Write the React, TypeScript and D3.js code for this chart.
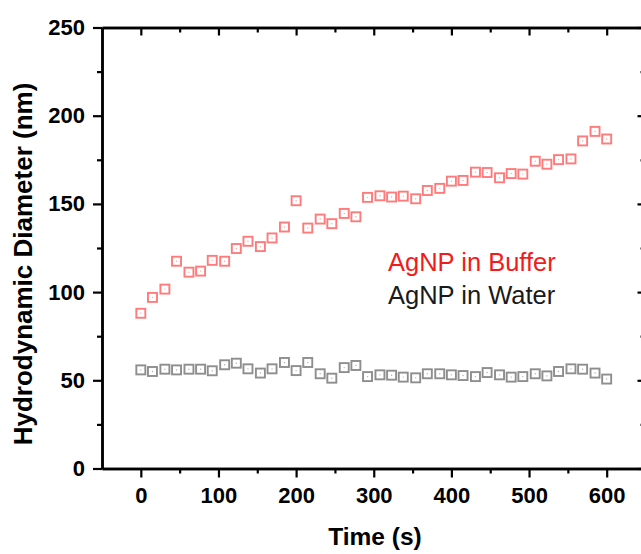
import React, { useEffect, useRef } from 'react';
import * as d3 from 'd3';

// time points (s)
const timeS = [0, 15, 31, 46, 62, 77, 92, 108, 123, 138, 154, 169, 185, 200, 215, 231, 246, 262, 277, 292,
  308, 323, 338, 354, 369, 385, 400, 415, 431, 446, 462, 477, 492, 508, 523, 538, 554, 569, 585, 600];

// hydrodynamic diameter (nm)
const bufferNm = [88, 97, 101.7, 117.5, 111.3, 111.9, 118, 117.5, 124.7, 128.8,
  125.8, 130.7, 136.9, 151.8, 136.3, 141.4, 138.8, 144.6, 142.7, 153.7,
  154.6, 153.9, 154.4, 152.9, 157.6, 158.8, 162.9, 163.3, 168, 167.8,
  164.8, 167.2, 166.9, 174.2, 172.5, 175.1, 175.5, 185.7, 191.1, 186.8];
const waterNm = [55.9, 55, 56.3, 55.9, 56.3, 56.3, 55.4, 58.8, 59.7, 56.5,
  54.1, 56.5, 60.1, 55.5, 60.1, 53.7, 51.2, 57.2, 58.4, 52.1,
  53.1, 52.9, 51.8, 51.4, 53.7, 53.7, 53.1, 52.7, 52.1, 54.4,
  53.1, 51.8, 52.1, 53.7, 52.5, 55, 56.5, 56.3, 54.1, 50.7];

const xMajor = [0, 100, 200, 300, 400, 500, 600];
const xMinor = [50, 150, 250, 350, 450, 550];
const yMajor = [0, 50, 100, 150, 200, 250];
const yMinor = [25, 75, 125, 175, 225];

const seriesNames = ['AgNP in Buffer', 'AgNP in Water'];

const W = 641, H = 554;
const FONT = '"Liberation Sans", Arial, sans-serif';

export default function App() {
  const ref = useRef<SVGSVGElement>(null);

  useEffect(() => {
    document.body.style.margin = '0';
    const svg = d3.select(ref.current);
    svg.selectAll('*').remove();

    const x = d3.scaleLinear().domain([-50, 650]).range([102, 645.5]);
    const y = d3.scaleLinear().domain([0, 250]).range([468.5, 27.5]);

    const styleAxis = (g: any) => {
      g.selectAll('path').attr('stroke', '#000').attr('stroke-width', 2.5);
      g.selectAll('line').attr('stroke', '#000').attr('stroke-width', 2.2);
      g.selectAll('text')
        .attr('fill', '#000')
        .style('font-family', FONT)
        .style('font-weight', 'bold')
        .style('font-size', '22px');
    };

    // bottom
    svg.append('g').attr('transform', `translate(0,${y(0)})`)
      .call(d3.axisBottom(x).tickValues(xMinor).tickSize(5).tickSizeOuter(0).tickFormat(() => ''))
      .call(styleAxis);
    svg.append('g').attr('transform', `translate(0,${y(0)})`)
      .call(d3.axisBottom(x).tickValues(xMajor).tickSize(9).tickSizeOuter(0).tickPadding(10).tickFormat(d3.format('d')))
      .call(styleAxis);
    // top
    svg.append('g').attr('transform', `translate(0,${y(250)})`)
      .call(d3.axisBottom(x).tickValues(xMinor).tickSize(5).tickSizeOuter(0).tickFormat(() => ''))
      .call(styleAxis);
    svg.append('g').attr('transform', `translate(0,${y(250)})`)
      .call(d3.axisBottom(x).tickValues(xMajor).tickSize(8).tickSizeOuter(0).tickFormat(() => ''))
      .call(styleAxis);
    // left
    svg.append('g').attr('transform', `translate(${x(-50)},0)`)
      .call(d3.axisLeft(y).tickValues(yMinor).tickSize(5).tickSizeOuter(0).tickFormat(() => ''))
      .call(styleAxis);
    svg.append('g').attr('transform', `translate(${x(-50)},0)`)
      .call(d3.axisLeft(y).tickValues(yMajor).tickSize(9).tickSizeOuter(0).tickPadding(8).tickFormat(d3.format('d')))
      .call(styleAxis);
    // right
    svg.append('g').attr('transform', `translate(${x(650)},0)`)
      .call(d3.axisLeft(y).tickValues(yMinor).tickSize(5).tickSizeOuter(0).tickFormat(() => ''))
      .call(styleAxis);
    svg.append('g').attr('transform', `translate(${x(650)},0)`)
      .call(d3.axisLeft(y).tickValues(yMajor).tickSize(8).tickSizeOuter(0).tickFormat(() => ''))
      .call(styleAxis);

    const drawSeries = (vals: number[], color: string) => {
      const g = svg.append('g');
      const s = 9;
      vals.forEach((v, i) => {
        g.append('rect')
          .attr('x', x(timeS[i]) - s / 2)
          .attr('y', y(v) - s / 2)
          .attr('width', s)
          .attr('height', s)
          .attr('fill', 'none')
          .attr('stroke', color)
          .attr('stroke-width', 1.9);
        g.append('circle')
          .attr('cx', x(timeS[i]))
          .attr('cy', y(v))
          .attr('r', 0.7)
          .attr('fill', color)
          .attr('opacity', 0.7);
      });
    };
    drawSeries(waterNm, '#8e8e8e');
    drawSeries(bufferNm, '#ff7b7b');

    // legend text
    svg.append('text').attr('x', 388).attr('y', 271)
      .style('font-family', FONT).style('font-size', '25.5px').attr('fill', '#f21b1b')
      .text(seriesNames[0]);
    svg.append('text').attr('x', 388).attr('y', 304)
      .style('font-family', FONT).style('font-size', '25.5px').attr('fill', '#1a1a1a')
      .text(seriesNames[1]);

    // axis titles
    svg.append('text')
      .attr('x', 375).attr('y', 545)
      .attr('text-anchor', 'middle')
      .style('font-family', FONT).style('font-weight', 'bold').style('font-size', '24.5px')
      .text('Time (s)');
    svg.append('text')
      .attr('transform', 'translate(32,264) rotate(-90)')
      .attr('text-anchor', 'middle')
      .style('font-family', FONT).style('font-weight', 'bold').style('font-size', '26px')
      .text('Hydrodynamic Diameter (nm)');
  }, []);

  return <svg ref={ref} width={W} height={H} style={{ display: 'block', background: '#fff' }} />;
}
